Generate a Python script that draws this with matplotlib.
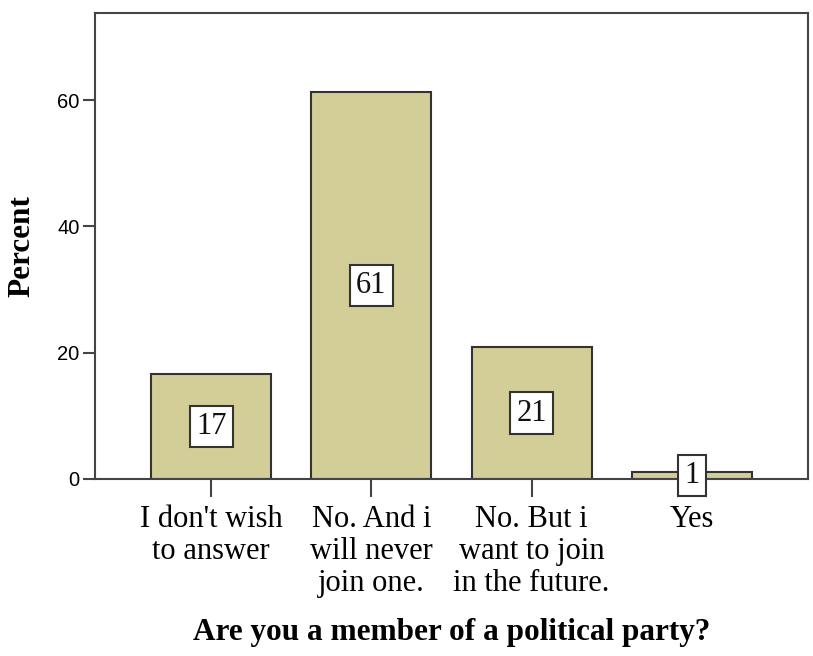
import numpy as np
import matplotlib
matplotlib.use("Agg")
import matplotlib.pyplot as plt

# survey answers (percent)
categories = ["I don't wish\nto answer", "No. And i\nwill never\njoin one.",
              "No. But i\nwant to join\nin the future.", "Yes"]
percent = [16.6, 61.3, 20.9, 1.1]
labels = ["17", "61", "21", "1"]
yticks = [0, 20, 40, 60]

serif = "Liberation Serif"
sans = "Liberation Sans"
bar_color = "#d3ce98"
edge = "#333333"

fig = plt.figure(figsize=(8.13, 6.56), dpi=100)
ax = fig.add_axes([95/813, 1-479/656, 713/813, 466/656])

x = np.arange(len(categories))
ax.bar(x, percent, width=0.75, color=bar_color, edgecolor=edge, linewidth=1.5, zorder=2)

for xi, v, lab in zip(x, percent, labels):
    ax.text(xi, v/2, lab, ha="center", va="center", fontsize=22, family=serif,
            color="#111111", zorder=5, clip_on=False,
            bbox=dict(boxstyle="square,pad=0.2", fc="white", ec=edge, lw=1.5))

ax.set_xlim(-0.725, 3.725)
ax.set_ylim(0, 73.8)
ax.set_xticks(x)
ax.set_xticklabels(categories, family=serif, fontsize=22, linespacing=1.12)
ax.set_yticks(yticks)
ax.set_yticklabels([str(t) for t in yticks], family=sans, fontsize=14.5)
ax.tick_params(axis="x", length=13, width=1.5, color="#444444", pad=6)
ax.tick_params(axis="y", length=9, width=1.5, color="#444444", pad=2)

for s in ax.spines.values():
    s.set_linewidth(1.5)
    s.set_color("#444444")

ax.set_ylabel("Percent", family=serif, fontweight="bold", fontsize=22.5)
ax.yaxis.set_label_coords((36-95)/713, 0.5)
ax.set_xlabel("Are you a member of a political party?", family=serif,
              fontweight="bold", fontsize=22.5)
ax.xaxis.set_label_coords(0.5, -(618-479)/466)

fig.savefig("out.png", dpi=100)
